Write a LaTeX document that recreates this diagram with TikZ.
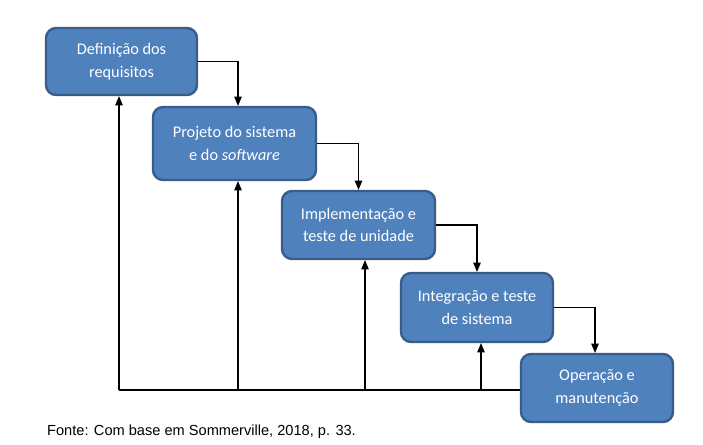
\documentclass[tikz,border=0pt]{standalone}
\usepackage{fontspec}
\setmainfont{Carlito}
\newfontfamily\captionfont{Liberation Sans}
\usetikzlibrary{arrows}
\usetikzlibrary{positioning}

\definecolor{boxfill}{HTML}{4F81BD}
\definecolor{boxline}{HTML}{385D8A}

\begin{document}
\begin{tikzpicture}[x=1pt,y=-1pt]
\tikzset{
  phase/.style={rectangle, rounded corners=10pt, draw=boxline, line width=2.4pt,
    fill=boxfill, text=white, align=center, inner sep=0pt,
    font=\fontsize{16.3}{22.5}\selectfont},
  flow/.style={line width=1.1pt, ->, >=triangle 45}
}
\useasboundingbox (0,0) rectangle (703,444);

\node[phase, minimum width=151pt, minimum height=67pt] (req) at (121.5,61.5) {Definição dos\\requisitos};
\node[phase, minimum width=163pt, minimum height=73pt] (proj) at (234.5,143.5) {Projeto do sistema\\e do \textit{software}};
\node[phase, minimum width=153pt, minimum height=68pt] (impl) at (358.5,225) {Implementação e\\teste de unidade};
\node[phase, minimum width=152pt, minimum height=69pt] (integ) at (477,307.5) {Integração e teste\\de sistema};
\node[phase, minimum width=152pt, minimum height=68pt] (oper) at (597,388) {Operação e\\manutenção};

% descida em cascata
\draw[flow] (req.east) -| ([xshift=3.5pt]proj.north);
\draw[flow] (proj.east) -| (impl.north);
\draw[flow] (impl.east) -| (integ.north);
\draw[flow] (integ.east) -| ([xshift=-2pt]oper.north);

% retorno
\coordinate (r1) at (119,390);
\coordinate (r2) at (238,390);
\coordinate (r3) at (365,390);
\coordinate (r4) at (481,390);
\draw[line width=1.1pt] (r1) -- (r1 -| oper.west);
\draw[flow] (r1) -- (r1 |- req.south);
\draw[flow] (r2) -- (r2 |- proj.south);
\draw[flow] (r3) -- (r3 |- impl.south);
\draw[flow] (r4) -- (r4 |- integ.south);

\node[anchor=base west, inner sep=0pt, font=\captionfont\fontsize{14.6}{16}\selectfont] (fonte) at (47,435) {Fonte: Com base em Sommerville, 2018, p. 33.};
\end{tikzpicture}
\end{document}
